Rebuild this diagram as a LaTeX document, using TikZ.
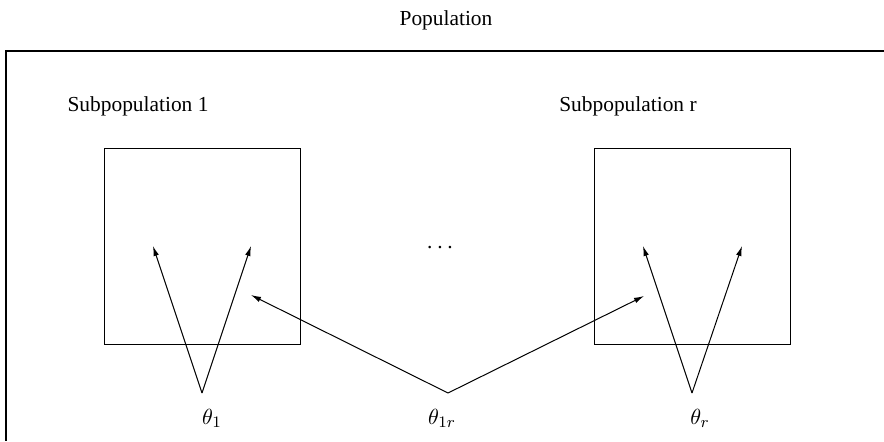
\documentclass[tikz,border=0pt]{standalone}
\usepackage{fontspec}
\setmainfont{Liberation Serif}
\usetikzlibrary{positioning, arrows.meta}

\begin{document}
\begin{tikzpicture}[x=0.5pt, y=-0.5pt,
            subpop/.style={rectangle, draw, line width=0.5pt,
                           minimum size=98pt, inner sep=0pt},
            lbl/.style={font=\fontsize{10.7}{13}\selectfont, inner sep=0pt, anchor=base},
            par/.style={font=\fontsize{11}{13}\selectfont, inner sep=0pt, anchor=base},
            arr/.style={-{Latex[length=5pt, width=2.8pt]}, line width=0.5pt}
          ]
          \useasboundingbox (0,0) rectangle (884,441);
          % population frame (open to the right and below)
          \draw[line width=0.8pt] (884,51) -- (6,51) -- (6,441);
          \node[lbl] (pop) at (446,25) {Population};

          % the two subpopulations
          \node[subpop] (s1) at (202,246) {};
          \node[subpop] (sr) at (692,246) {};
          \node[lbl] (s1lab) at (138,111) {Subpopulation 1};
          \node[lbl] (srlab) at (628,111) {Subpopulation r};
          \node[lbl] (dots) at (440,248) {.\hspace{2.4pt}.\hspace{2.4pt}.};

          % parameters
          \coordinate (a1)  at (202,393);
          \coordinate (a1r) at (448,393);
          \coordinate (ar)  at (692,393);
          \node[par] (t1)  at (212,424) {$\theta_1$};
          \node[par] (t1r) at (442,424) {$\theta_{1r}$};
          \node[par] (tr)  at (700,424) {$\theta_r$};

          \coordinate (p1a) at (153,246);
          \coordinate (p1b) at (251,246);
          \coordinate (pra) at (643,246);
          \coordinate (prb) at (742,246);
          \coordinate (m1)  at (251,295);
          \coordinate (mr)  at (644,296);

          \draw[arr] (a1)  -- (p1a);
          \draw[arr] (a1)  -- (p1b);
          \draw[arr] (ar)  -- (pra);
          \draw[arr] (ar)  -- (prb);
          \draw[arr] (a1r) -- (m1);
          \draw[arr] (a1r) -- (mr);
        \end{tikzpicture}
\end{document}
